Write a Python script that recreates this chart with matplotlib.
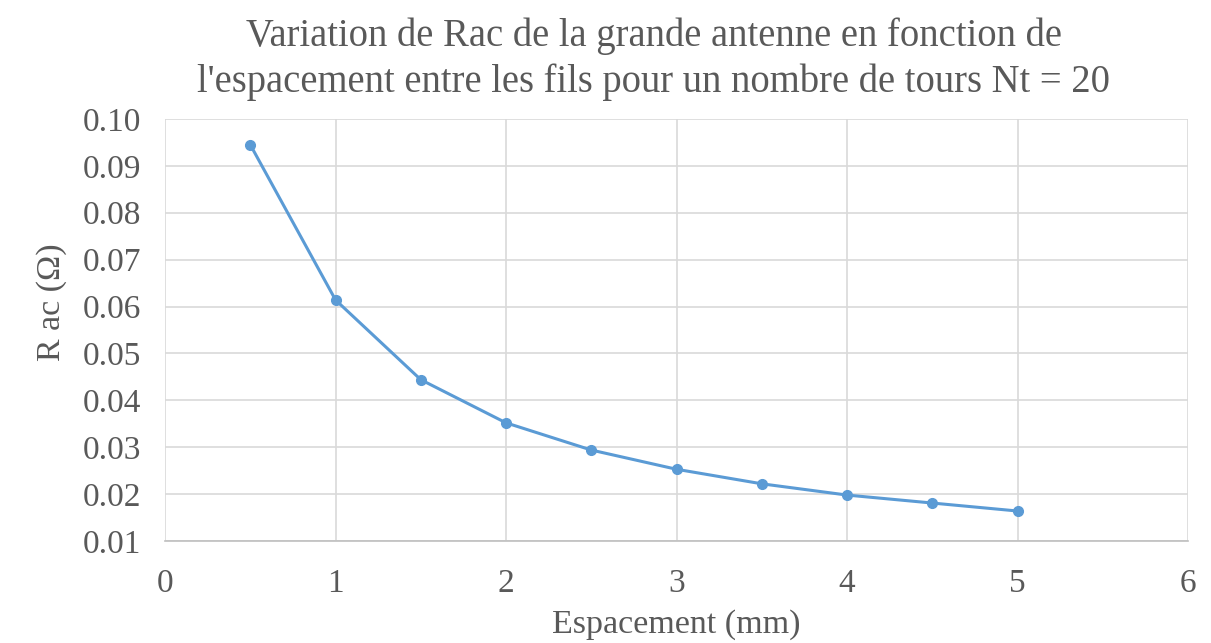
import numpy as np
import matplotlib.pyplot as plt

# espacement entre les fils (mm) et Rac (ohm)
espacement = [0.5, 1.0, 1.5, 2.0, 2.5, 3.0, 3.5, 4.0, 4.5, 5.0]
rac = [0.0945, 0.0614, 0.0444, 0.0352, 0.0294, 0.0253, 0.0222, 0.0198, 0.0181, 0.0164]

xticks = [0, 1, 2, 3, 4, 5, 6]
yticks = [0.01, 0.02, 0.03, 0.04, 0.05, 0.06, 0.07, 0.08, 0.09, 0.10]

plt.rcParams['font.family'] = ['Liberation Serif', 'DejaVu Serif']
txt = '#595959'
grid = '#d9d9d9'

fig = plt.figure(figsize=(12.11, 6.43), dpi=100)
ax = fig.add_axes([0.1363, 0.1586, 0.981 - 0.1363, 0.815 - 0.1586])

ax.plot(espacement, rac, color='#5b9bd5', lw=2.2, marker='o', ms=7, zorder=3)

ax.set_xlim(0, 6)
ax.set_ylim(0.01, 0.10)
ax.set_xticks(xticks)
ax.set_yticks(yticks)
ax.set_xticklabels([str(t) for t in xticks])
ax.set_yticklabels(['%.2f' % t for t in yticks])
ax.grid(True, color=grid, lw=1.2)
ax.set_axisbelow(True)
for s in ['top', 'right', 'left']:
    ax.spines[s].set_visible(False)
ax.spines['bottom'].set_color('#bfbfbf')
ax.spines['bottom'].set_linewidth(1.2)
ax.tick_params(length=0, labelsize=24, labelcolor=txt)
ax.tick_params(axis='y', pad=17)
ax.tick_params(axis='x', pad=20)

ax.set_xlabel('Espacement (mm)', fontsize=24.5, color=txt, va='center')
ax.xaxis.set_label_coords(0.5, -0.199)
ax.set_ylabel('R ac (Ω)', fontsize=24.5, color=txt)
ax.yaxis.set_label_coords(-0.0954, 0.566)
fig.suptitle("Variation de Rac de la grande antenne en fonction de\n"
             "l'espacement entre les fils pour un nombre de tours Nt = 20",
             fontsize=27.8, color=txt, y=0.973, x=0.54, linespacing=1.3)

fig.savefig('out.png', dpi=100)
